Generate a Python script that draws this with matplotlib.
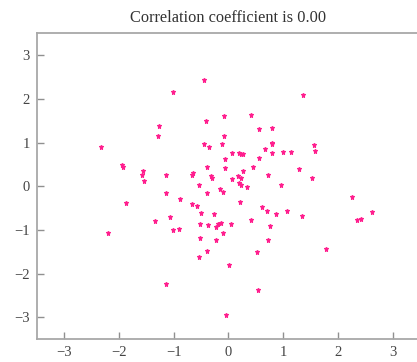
import numpy as np
import matplotlib
matplotlib.use('Agg')
import matplotlib.pyplot as plt

plt.rcParams['font.family'] = ['Liberation Serif', 'DejaVu Serif']

x = [-0.45, -1.01, -0.09, -0.42, -1.27, -1.29, -0.09, -2.33, -0.45, -0.35,
     -0.11, -0.07, -0.40, -0.07, -1.95, -1.93, -1.56, -1.58, -1.55, -1.14,
     -0.65, -0.66, -0.32, -0.30, -0.53, -0.15,
     1.37, 0.41, 0.55, 0.79, 0.79, 0.79, 1.57, 1.59, 0.66, 0.07,
     0.19, 0.22, 0.27, 0.79, 1.00, 1.14, 0.55, 0.45, 0.26, 1.29,
     0.73, 1.53, 0.07, 0.18, 0.22, 0.20, 0.22, 0.34, 0.96,
     -1.14, -0.39, -0.10, -1.87, -0.89, -0.67, -0.57, -0.51, -0.26, -1.06,
     -1.34, -0.52, -0.38, -0.20, -0.14, -0.22, -1.01, -0.90, -2.20, -0.10,
     -0.52, -0.23, -0.39, -0.53, 0.01, -1.15, -0.05,
     0.21, 0.62, 0.71, 0.86, 1.07, 1.35, 2.25, 2.34, 2.42, 2.62,
     0.05, 0.42, 0.76, 0.73, 1.78, 0.52, 0.54]
y = [2.43, 2.16, 1.60, 1.49, 1.37, 1.16, 1.14, 0.89, 0.97, 0.90,
     0.96, 0.62, 0.45, 0.41, 0.49, 0.44, 0.35, 0.27, 0.13, 0.27,
     0.31, 0.26, 0.23, 0.19, 0.02, -0.07,
     2.08, 1.63, 1.30, 1.33, 1.00, 0.96, 0.95, 0.81, 0.85, 0.76,
     0.77, 0.75, 0.75, 0.77, 0.78, 0.78, 0.65, 0.45, 0.36, 0.40,
     0.25, 0.20, 0.16, 0.23, 0.18, 0.08, 0.02, -0.01, 0.02,
     -0.15, -0.15, -0.14, -0.38, -0.29, -0.41, -0.45, -0.61, -0.63, -0.71,
     -0.79, -0.87, -0.88, -0.87, -0.84, -0.94, -1.01, -0.97, -1.07, -1.07,
     -1.19, -1.23, -1.48, -1.62, -1.79, -2.23, -2.94,
     -0.37, -0.47, -0.57, -0.63, -0.56, -0.67, -0.25, -0.77, -0.74, -0.58,
     -0.87, -0.78, -0.90, -1.22, -1.44, -1.51, -2.37]
ticks = [-3, -2, -1, 0, 1, 2, 3]

fig = plt.figure(figsize=(4.17, 3.62), dpi=100)
ax = fig.add_axes([0.0887, 0.0627, 0.9185, 0.8453])
ax.plot(x, y, '*', color='#ff1f8e', markersize=3.6, markeredgewidth=0.8)
ax.set_xlim(-3.5, 3.5)
ax.set_ylim(-3.5, 3.5)
ax.set_xticks(ticks)
ax.set_yticks(ticks)
ax.tick_params(direction='in', length=5, width=1, color='#909090',
               labelsize=10.5, labelcolor='#444444', pad=5)
for s in ax.spines.values():
    s.set_color('#a8a8a8')
    s.set_linewidth(1.3)
ax.set_title('Correlation coefficient is 0.00', fontsize=11.8, color='#333333', pad=8)

fig.savefig('out.png', dpi=100)
